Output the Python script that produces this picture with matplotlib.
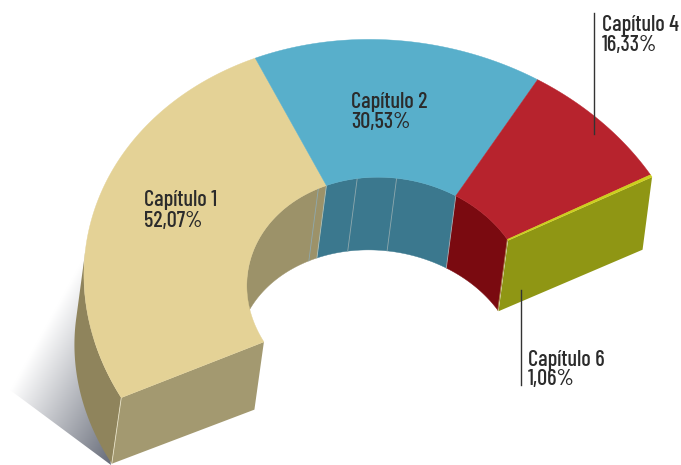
import numpy as np
import matplotlib
matplotlib.use('Agg')
import matplotlib.pyplot as plt
from matplotlib.patches import Polygon

labels = ['Capítulo 1', 'Capítulo 2', 'Capítulo 4', 'Capítulo 6']
share_txt = ['52,07%', '30,53%', '16,33%', '1,06%']
shares = np.array([52.07, 30.53, 16.33, 1.06])
top_cols = ['#E4D296', '#58AFCB', '#B7232D', '#CDCF1C']
wall_cols = ['#9C9269', '#3B788E', '#7A0A10']

# plane of the ring -> picture pixels
H = np.array([[-264.122847, -146.697183, 386.868316],
              [108.682118, -230.325268, 293.808932],
              [0.012107, -0.001956, 1.0]])
SWEEP = 3.12
R_IN = 0.46
SLIVER = 0.3  # the 1,06% slice is drawn thinner than its real angle


def proj(r, t):
    p = H @ np.vstack([r * np.cos(t), r * np.sin(t), np.ones_like(t)])
    return (p[:2] / p[2]).T


def down(pts):
    # extrusion gets a bit longer towards the back of the ring
    out = pts.copy()
    out[:, 0] -= 9.5
    out[:, 1] += 78 - 0.03 * pts[:, 1]
    return out


def ang(pct):
    return SWEEP * pct / 100


cum = np.cumsum(np.r_[0, shares[:3]])
bounds = np.r_[ang(cum), ang(cum[-1] + SLIVER * shares[3])]

fig = plt.figure(figsize=(6.81, 4.65), dpi=100)
ax = fig.add_axes([0, 0, 1, 1])

# shadow
shadow = Polygon([[83, 258], [10, 390], [111, 465]], fc='none', ec='none', transform=ax.transData)
ax.add_patch(shadow)
gx, gy = np.meshgrid(np.arange(0, 130), np.arange(250, 466))
v = np.clip(((gx - 83) * 132 + (gy - 258) * 73) / 151 / 124.5, 0, 1)
dark = np.array([0.40, 0.42, 0.47])
img = 1 + (dark - 1) * v[..., None]
im = ax.imshow(img, extent=(0, 130, 466, 250), aspect='auto', zorder=1, interpolation='bilinear')
im.set_clip_path(shadow)

ax.set_xlim(0, 681)
ax.set_ylim(465, 0)
ax.axis('off')

# which side of a curve faces us
fine = np.linspace(0, bounds[-1], 800)


def facing(r, a):
    c = proj(r, a)
    d = np.gradient(c, axis=0)
    return d[:, 0] * 70 + d[:, 1] * 9.5


# outer wall, left side only
a = fine[facing(1, fine) < 0] if (facing(1, fine)[:10] < 0).all() else fine[facing(1, fine) > 0]
a = a[a < ang(cum[1])]
c = proj(1, a)
ax.add_patch(Polygon(np.r_[c, down(c)[::-1]], fc='#8F845C', ec='none', zorder=2))

# inner walls, only the part that faces us
sign = np.sign(facing(R_IN, np.array([ang(60), ang(60.1), ang(60.2)]))[1])
for k in range(3):
    a = np.linspace(bounds[k], bounds[k + 1], 200)
    a = a[np.sign(facing(R_IN, a)) == sign]
    c = proj(R_IN, a)
    ax.add_patch(Polygon(np.r_[c, down(c)[::-1]], fc=wall_cols[k], ec=wall_cols[k], lw=0.3, zorder=3))

# hidden slice edges on the inner wall
for pct in [50.0, 59.5, 68.5]:
    c = proj(R_IN, np.array([ang(pct)]))
    d = down(c)
    ax.plot([c[0, 0], d[0, 0]], [c[0, 1], d[0, 1]], color='#8FA9AE', lw=0.6, zorder=4)

# cut faces
c = proj(np.array([1, R_IN]), np.array([bounds[0], bounds[0]]))
ax.add_patch(Polygon(np.r_[c, down(c)[::-1]], fc='#A39970', ec='none', zorder=4))
c = proj(np.array([1, R_IN]), np.array([bounds[4], bounds[4]]))
ax.add_patch(Polygon(np.r_[c, down(c)[::-1]], fc='#8F9614', ec='none', zorder=4))

# light seams down the corners
for r, pct, col in [(1, 0, '#E6E0C4'), (R_IN, cum[1], '#B9C3B4'), (R_IN, cum[2], '#9FB6BE'), (R_IN, cum[3], '#A8803A')]:
    c = proj(r, np.array([ang(pct)]))
    d = down(c)
    ax.plot([c[0, 0], d[0, 0]], [c[0, 1], d[0, 1]], color=col, lw=0.6, zorder=4.5)

# top of the ring
for k in range(4):
    a = np.linspace(bounds[k], bounds[k + 1], 120)
    ax.add_patch(Polygon(np.r_[proj(1, a), proj(R_IN, a[::-1])], fc=top_cols[k], ec=top_cols[k], lw=0.3, zorder=5))

# leaders
ax.plot([594, 594], [13, 134], color='#333333', lw=1, zorder=6)
ax.plot([520.5, 520.5], [290, 385], color='#333333', lw=1, zorder=6)

fam = ['Barlow Condensed', 'Liberation Sans Narrow', 'DejaVu Sans']
text_pos = [(144, 200, 221), (351, 102, 122), (602, 25, 45), (528, 360, 379)]
for name, pct, (x, y1, y2) in zip(labels, share_txt, text_pos):
    ax.text(x, y1, name, family=fam, fontsize=16, weight='medium', color='#2B2B2B', va='center', ha='left', zorder=7)
    ax.text(x, y2, pct, family=fam, fontsize=16, weight='medium', color='#2B2B2B', va='center', ha='left', zorder=7)

fig.savefig('out.png')
